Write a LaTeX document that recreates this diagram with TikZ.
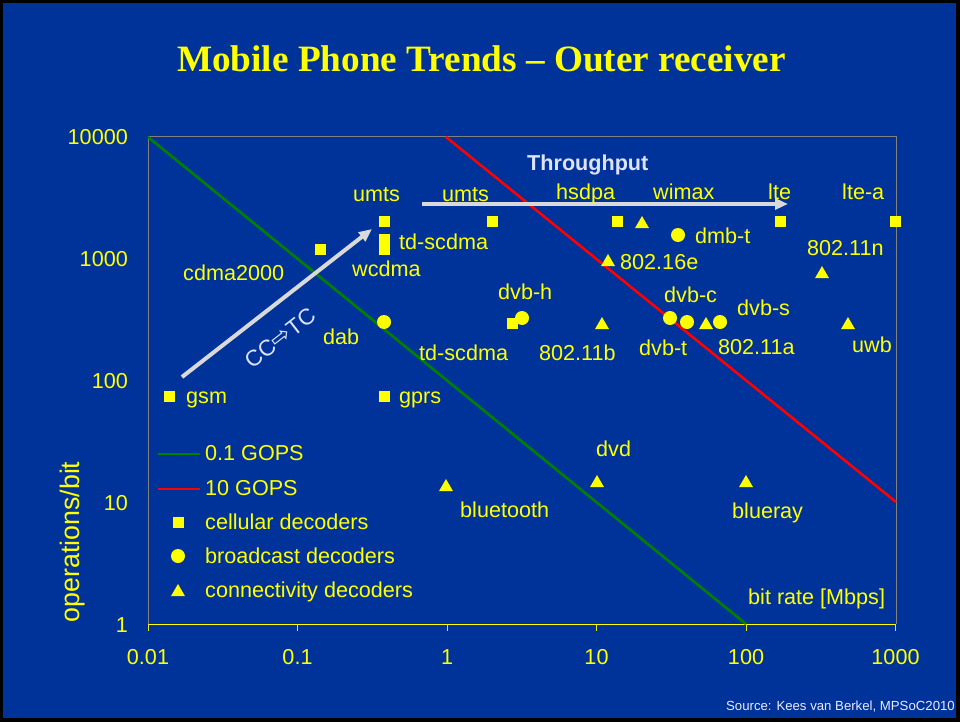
\documentclass[tikz,border=0pt]{standalone}
\usepackage{fontspec}
\setmainfont{Liberation Sans}
\newfontfamily\titlefont{Liberation Serif}
\newfontfamily\symfont{DejaVu Sans}
\usetikzlibrary{arrows.meta,shapes.geometric}

\definecolor{slideblue}{RGB}{0,51,153}
\definecolor{plotyellow}{RGB}{255,255,0}
\definecolor{framegray}{RGB}{128,128,128}
\definecolor{trendgray}{RGB}{217,217,217}
\definecolor{notetext}{RGB}{222,226,245}
\definecolor{gopsgreen}{RGB}{0,128,0}
\definecolor{gopsred}{RGB}{255,0,0}
\definecolor{sourcetext}{RGB}{232,234,248}

\begin{document}
\begin{tikzpicture}[x=1pt,y=-1pt,
  lbl/.style={font=\fontsize{21.6}{24}\selectfont, text=plotyellow,
    inner sep=0pt, text height=15.5pt, text depth=0pt, anchor=west},
  ticklbl/.style={lbl, anchor=center},
  ylbl/.style={lbl, anchor=east},
  cell/.style={rectangle, fill=plotyellow, minimum size=11pt, inner sep=0pt},
  bcast/.style={circle, fill=plotyellow, minimum size=14pt, inner sep=0pt},
  conn/.style={regular polygon, regular polygon sides=3, fill=plotyellow,
    minimum size=16pt, inner sep=0pt},
  gops/.style={line width=2.6pt},
  trend/.style={draw=trendgray, line width=4pt,
    -{Triangle[length=13pt,width=11pt]}},
  frameline/.style={draw=framegray, line width=1pt},
]
\useasboundingbox (0,0) rectangle (960,722);

% slide background with its dark border
\fill[black] (0,0) rectangle (960,722);
\fill[slideblue] (3,3) rectangle (956,718);

% title
\node[anchor=base, text=plotyellow, inner sep=0pt,
      font=\titlefont\bfseries\fontsize{37.2}{40}\selectfont] (title) at (481.5,72)
  {Mobile Phone Trends – Outer receiver};

% plot frame and x axis
\coordinate (tl) at (148,137);
\coordinate (tr) at (896,137);
\coordinate (bl) at (148,624);
\coordinate (br) at (896,624);
\draw[frameline] (bl) -- (tl) -- (tr) -- (br);
\draw[plotyellow, line width=1pt] (bl) -- (br);
\foreach \xx in {148,297.5,447,596.5,746,895.5}
  \draw[plotyellow!85!gray, line width=1pt] (\xx,624) -- (\xx,631);

% tick labels
\node[ylbl] (y4) at (128,137) {10000};
\node[ylbl] (y3) at (128,259) {1000};
\node[ylbl] (y2) at (128,381) {100};
\node[ylbl] (y1) at (128,503) {10};
\node[ylbl] (y0) at (128,625) {1};
\node[ticklbl] (x0) at (148,657) {0.01};
\node[ticklbl] (x1) at (297.5,657) {0.1};
\node[ticklbl] (x2) at (447,657) {1};
\node[ticklbl] (x3) at (596.5,657) {10};
\node[ticklbl] (x4) at (746,657) {100};
\node[ticklbl] (x5) at (895.5,657) {1000};

% axis titles
\node[lbl, anchor=center, font=\fontsize{26.8}{30}\selectfont, text height=19pt,
      rotate=90] (ytitle) at (70,542) {operations/bit};
\node[lbl] (xtitle) at (748,597) {bit rate [Mbps]};

% constant-throughput lines
\coordinate (g0) at (148,137);
\coordinate (g1) at (746,624);
\coordinate (r0) at (446,137);
\coordinate (r1) at (896,502);
\draw[gops, gopsgreen] (g0) -- (g1);
\draw[gops, gopsred] (r0) -- (r1);

% trend arrows
\coordinate (ccA) at (182,377);
\coordinate (ccB) at (372,229);
\draw[trend] (ccA) -- (ccB);
\node[font=\fontsize{22.5}{24}\selectfont, text=notetext, inner sep=0pt,
      rotate=38] (cctc) at (280,338) {CC{\symfont\fontsize{24}{24}\selectfont ⇨}TC};
\coordinate (thA) at (422,204);
\coordinate (thB) at (788,204);
\draw[trend] (thA) -- (thB);
\node[font=\bfseries\fontsize{21.6}{24}\selectfont, text=notetext, inner sep=0pt,
      text height=15.5pt, text depth=0pt, anchor=west] (thput) at (527,163) {Throughput};

% cellular decoders
\node[cell] (gsm) at (169,396) {};
\node[cell] (umtsA) at (384,221) {};
\node[cell] (tdscdmaA) at (384,239) {};
\node[cell] (wcdma) at (384,249) {};
\node[cell] (cdma) at (320,249) {};
\node[cell] (gprs) at (384,396) {};
\node[cell] (umtsB) at (492,221) {};
\node[cell] (hsdpa) at (617,221) {};
\node[cell] (lte) at (780,221) {};
\node[cell] (ltea) at (895,221) {};
\node[cell] (tdscdmaB) at (512,323) {};

% broadcast decoders
\node[bcast] (dab) at (384,322) {};
\node[bcast] (dvbh) at (522,318) {};
\node[bcast] (dmbt) at (678,235) {};
\node[bcast] (dvbt) at (670,318) {};
\node[bcast] (dvbc) at (687,322) {};
\node[bcast] (dvbs) at (720,322) {};

% connectivity decoders
\node[conn] (wimax) at (642,224) {};
\node[conn] (w16e) at (608,262) {};
\node[conn] (w11n) at (822,274) {};
\node[conn] (w11b) at (602,325) {};
\node[conn] (w11a) at (706,325) {};
\node[conn] (uwb) at (848,325) {};
\node[conn] (bt) at (446,487) {};
\node[conn] (dvd) at (597,483) {};
\node[conn] (bluray) at (746,483) {};

% data labels
\node[lbl] (LumtsA) at (353,194) {umts};
\node[lbl] (LumtsB) at (442,194) {umts};
\node[lbl] (Lhsdpa) at (556,192) {hsdpa};
\node[lbl] (Lwimax) at (653,192) {wimax};
\node[lbl] (Llte) at (768,192) {lte};
\node[lbl] (Lltea) at (842,192) {lte-a};
\node[lbl] (LtdA) at (399,242) {td-scdma};
\node[lbl] (Lcdma) at (183,273) {cdma2000};
\node[lbl] (Lwcdma) at (352,269) {wcdma};
\node[lbl] (Ldmbt) at (695,236) {dmb-t};
\node[lbl] (L16e) at (620,262) {802.16e};
\node[lbl] (L11n) at (807,248) {802.11n};
\node[lbl] (Ldvbh) at (498,292) {dvb-h};
\node[lbl] (Ldvbc) at (664,295) {dvb-c};
\node[lbl] (Ldvbs) at (737,308) {dvb-s};
\node[lbl] (Ldab) at (323,337) {dab};
\node[lbl] (LtdB) at (419,353) {td-scdma};
\node[lbl] (L11b) at (539,353) {802.11b};
\node[lbl] (Ldvbt) at (639,348) {dvb-t};
\node[lbl] (L11a) at (718,347) {802.11a};
\node[lbl] (Luwb) at (852,345) {uwb};
\node[lbl] (Lgsm) at (186,396) {gsm};
\node[lbl] (Lgprs) at (399,396) {gprs};
\node[lbl] (Ldvd) at (596,449) {dvd};
\node[lbl] (Lbt) at (460,510) {bluetooth};
\node[lbl] (Lbluray) at (732,511) {blueray};

% legend
\coordinate (lgA) at (158,454);
\coordinate (lgB) at (200,454);
\coordinate (lrA) at (158,489);
\coordinate (lrB) at (200,489);
\draw[gops, gopsgreen] (lgA) -- (lgB);
\draw[gops, gopsred] (lrA) -- (lrB);
\node[lbl] (legG) at (205,453) {0.1 GOPS};
\node[lbl] (legR) at (205,488) {10 GOPS};
\node[cell] (legCellM) at (178,522) {};
\node[lbl] (legCell) at (205,522) {cellular decoders};
\node[bcast] (legBcM) at (178,556) {};
\node[lbl] (legBc) at (205,556) {broadcast decoders};
\node[conn] (legConnM) at (178,592) {};
\node[lbl] (legConn) at (205,590) {connectivity decoders};

% source note
\node[anchor=east, text=sourcetext, inner sep=0pt, text height=9.5pt, text depth=0pt,
      font=\fontsize{13.2}{15}\selectfont] (src) at (955,706)
  {Source: Kees van Berkel, MPSoC2010};
\end{tikzpicture}
\end{document}
